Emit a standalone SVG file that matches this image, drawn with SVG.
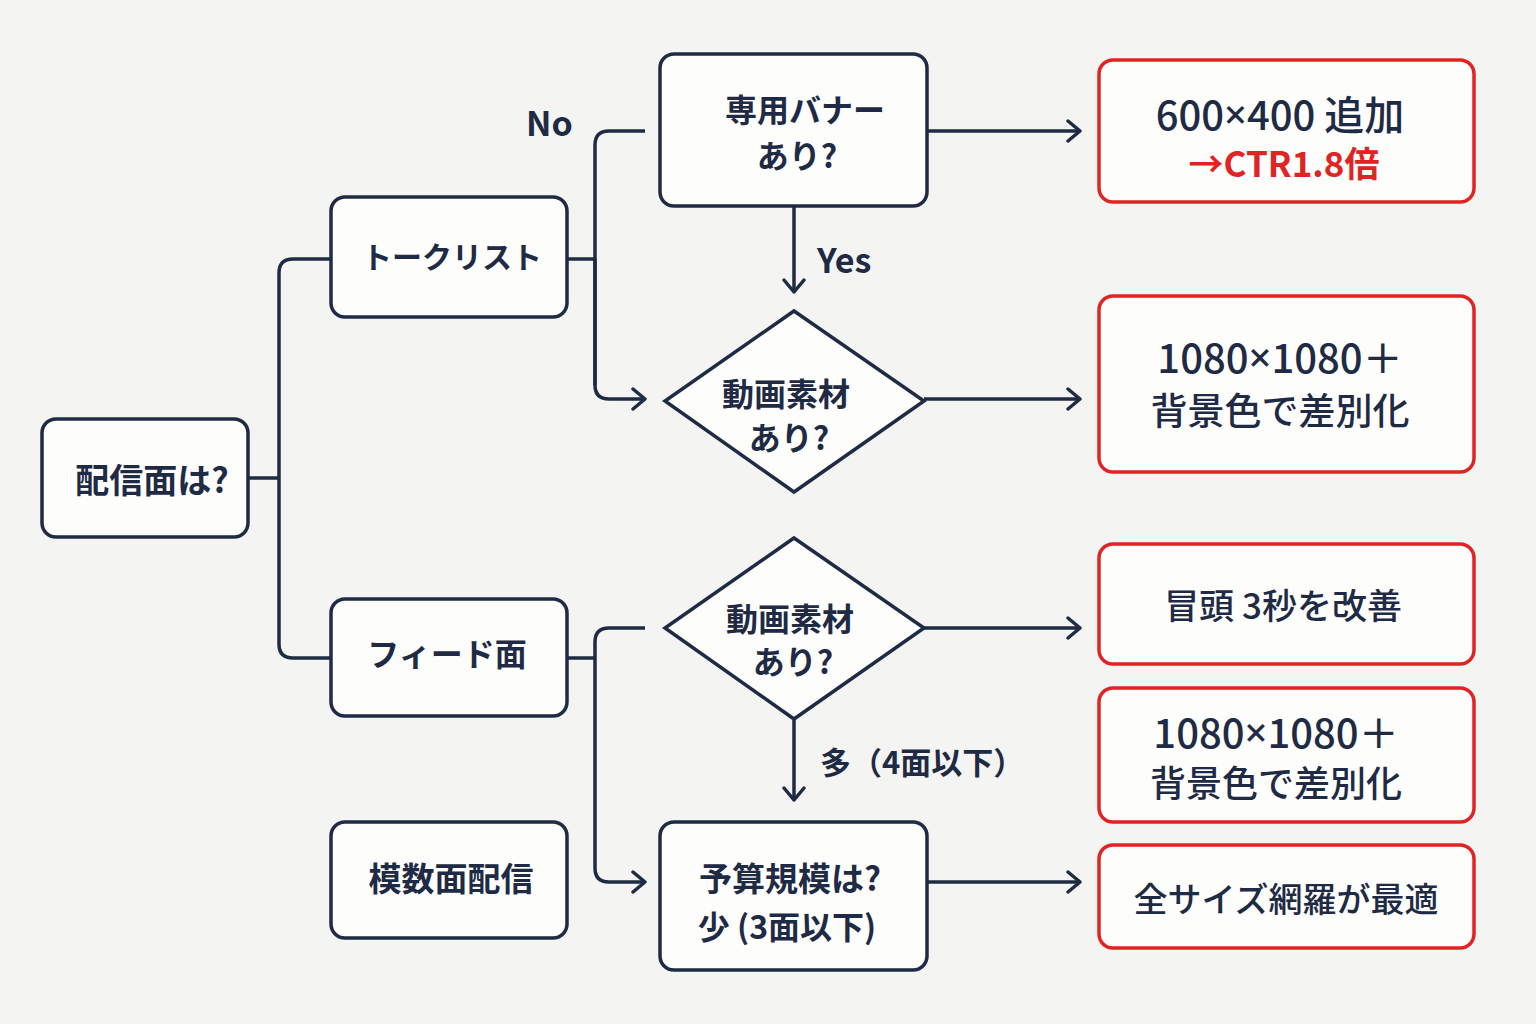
<svg xmlns="http://www.w3.org/2000/svg" width="1536" height="1024" viewBox="0 0 1536 1024">
<defs>
<style>
.bg{fill:#f4f4f2}
.node{fill:#fdfdfb;stroke:#1f2a44;stroke-width:3.5}
.res{fill:#fdfdfb;stroke:#e02424;stroke-width:3.5}
.t{font-family:"Noto Sans CJK JP","Noto Sans",sans-serif;font-weight:700;fill:#1f2a44;text-anchor:middle;dominant-baseline:central}
.t30{font-size:32px}
.t36{font-size:35px;font-weight:500}
.num{font-size:40px}
.x{font-family:"Noto Sans",sans-serif}
.red{fill:#e02424}
.lbl{font-family:"Noto Sans CJK JP","Noto Sans",sans-serif;font-weight:700;fill:#1f2a44;font-size:34px;dominant-baseline:central}
.c{fill:none;stroke:#1f2a44;stroke-width:3.5;stroke-linejoin:round}
</style>
<marker id="ah" viewBox="0 0 16 24" refX="14" refY="12" markerWidth="16" markerHeight="24" markerUnits="userSpaceOnUse" orient="auto">
<path d="M2 2 L14 12 L2 22" fill="none" stroke="#1f2a44" stroke-width="3.5" stroke-linecap="round" stroke-linejoin="round"/>
</marker>
</defs>
<rect class="bg" x="0" y="0" width="1536" height="1024"/>

<g id="connectors">
<path class="c" d="M248 478 H279"/>
<path class="c" d="M331 259 H293 Q279 259 279 273 V644 Q279 658 293 658 H331"/>
<path class="c" d="M567 259 H595"/>
<path class="c" marker-end="url(#ah)" d="M645 131 H609 Q595 131 595 145 V385 Q595 399 609 399 H645"/>
<path class="c" d="M595 259 V385"/>
<path class="c" marker-end="url(#ah)" d="M927 131 H1080"/>
<path class="c" marker-end="url(#ah)" d="M794 207 V292"/>
<path class="c" marker-end="url(#ah)" d="M924 399 H1080"/>
<path class="c" d="M567 658 H595"/>
<path class="c" marker-end="url(#ah)" d="M645 628 H609 Q595 628 595 642 V868 Q595 882 609 882 H645"/>
<path class="c" marker-end="url(#ah)" d="M924 628 H1080"/>
<path class="c" marker-end="url(#ah)" d="M794 720 V800"/>
<path class="c" marker-end="url(#ah)" d="M927 882 H1080"/>
<text class="lbl" x="526" y="121">No</text>
<text class="lbl" x="817" y="258">Yes</text>
<text class="lbl" x="820" y="760" style="font-size:31px">多（4面以下）</text>
</g>

<g id="n-start">
<rect class="node" x="42" y="419" width="206" height="118" rx="14"/>
<text class="t t30" x="152" y="478" style="font-size:34px">配信面は?</text>
</g>
<g id="n-talk">
<rect class="node" x="331" y="197" width="236" height="120" rx="14"/>
<text class="t t30" x="452" y="255" style="font-size:30px">トークリスト</text>
</g>
<g id="n-feed">
<rect class="node" x="331" y="599" width="236" height="117" rx="14"/>
<text class="t t30" x="447" y="652">フィード面</text>
</g>
<g id="n-multi">
<rect class="node" x="331" y="822" width="236" height="116" rx="14"/>
<text class="t t30" x="451" y="877" style="font-size:33px">模数面配信</text>
</g>
<g id="n-banner">
<rect class="node" x="660" y="54" width="267" height="152" rx="14"/>
<text class="t t30" x="805" y="108">専用バナー</text>
<text class="t t30" x="797" y="154">あり?</text>
</g>
<g id="n-video1">
<path class="node" d="M794 311 L924 401 L794 492 L665 401 Z"/>
<text class="t t30" x="786" y="392">動画素材</text>
<text class="t t30" x="789" y="436">あり?</text>
</g>
<g id="n-video2">
<path class="node" d="M794 538 L924 628 L794 719 L665 628 Z"/>
<text class="t t30" x="790" y="617">動画素材</text>
<text class="t t30" x="793" y="660">あり?</text>
</g>
<g id="n-budget">
<rect class="node" x="660" y="822" width="267" height="148" rx="14"/>
<text class="t t30" x="790" y="877" style="font-size:33px">予算規模は?</text>
<text class="t t30" x="787" y="925">少 (3面以下)</text>
</g>
<g id="r1">
<rect class="res" x="1099" y="60" width="375" height="142" rx="14"/>
<text class="t t36 num" x="1280" y="113">600<tspan class="x">×</tspan>400 追加</text>
<text class="t t36 red" x="1284" y="161" style="font-weight:700">→CTR1.8倍</text>
</g>
<g id="r2">
<rect class="res" x="1099" y="296" width="375" height="176" rx="14"/>
<text class="t t36 num" x="1280" y="356">1080<tspan class="x">×</tspan>1080＋</text>
<text class="t t36" x="1280" y="409" style="font-size:37px">背景色で差別化</text>
</g>
<g id="r3">
<rect class="res" x="1099" y="544" width="375" height="120" rx="14"/>
<text class="t t36" x="1283" y="603">冒頭 3秒を改善</text>
</g>
<g id="r4">
<rect class="res" x="1099" y="688" width="375" height="134" rx="14"/>
<text class="t t36 num" x="1276" y="731">1080<tspan class="x">×</tspan>1080＋</text>
<text class="t t36" x="1276" y="781" style="font-size:36px">背景色で差別化</text>
</g>
<g id="r5">
<rect class="res" x="1099" y="845" width="375" height="103" rx="14"/>
<text class="t t36" x="1286" y="897" style="font-size:34px">全サイズ網羅が最適</text>
</g>
</svg>
